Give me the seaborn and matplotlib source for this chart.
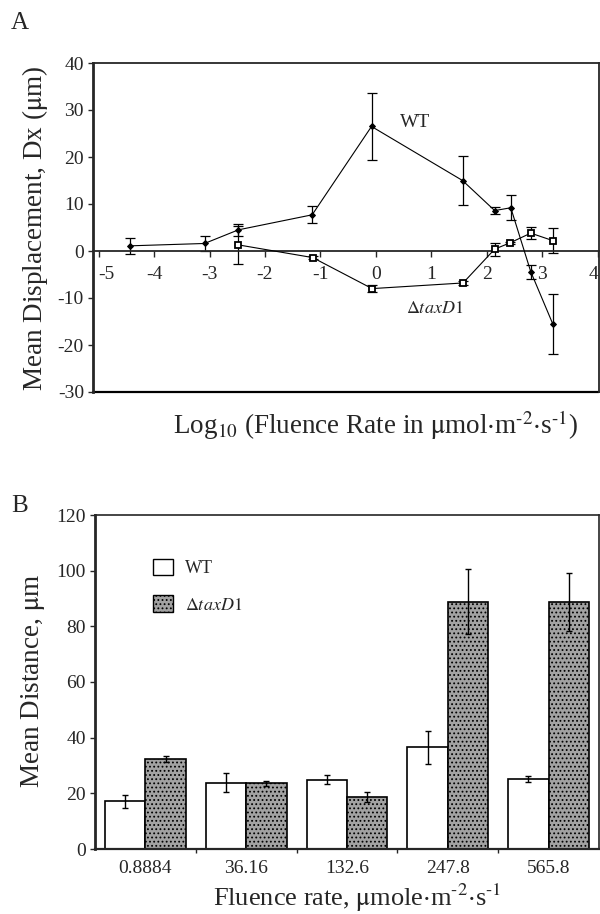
import matplotlib

matplotlib.use("Agg")
import matplotlib.pyplot as plt
import pandas as pd
import seaborn as sns
from matplotlib.patches import Patch

# Panel A: mean displacement vs log10 fluence rate
LOG_FLUENCE_WT = [-4.43, -3.09, -2.48, -1.15, -0.08, 1.56, 2.14, 2.43, 2.79, 3.19]
DX_WT = [1.1, 1.6, 4.5, 7.7, 26.5, 15.0, 8.6, 9.2, -4.4, -15.6]
DX_WT_ERR = [1.7, 1.5, 1.3, 1.8, 7.2, 5.2, 0.7, 2.7, 1.5, 6.4]

LOG_FLUENCE_TAXD1 = [-2.48, -1.14, -0.07, 1.57, 2.14, 2.41, 2.79, 3.19]
DX_TAXD1 = [1.3, -1.4, -8.0, -6.8, 0.4, 1.7, 3.8, 2.2]
DX_TAXD1_ERR = [4.0, 0.3, 0.8, 0.5, 1.4, 0.3, 1.3, 2.6]

X_TICKS_A = [-5, -4, -3, -2, -1, 0, 1, 2, 3, 4]
Y_TICKS_A = [-30, -20, -10, 0, 10, 20, 30, 40]

# Panel B: mean distance per fluence rate
FLUENCE_LABELS = ["0.8884", "36.16", "132.6", "247.8", "565.8"]
DIST_WT = [17.1, 23.8, 24.9, 36.5, 25.2]
DIST_WT_ERR = [2.4, 3.5, 1.6, 5.8, 1.0]
DIST_TAXD1 = [32.4, 23.6, 18.7, 88.9, 88.7]
DIST_TAXD1_ERR = [1.0, 0.8, 1.9, 11.6, 10.5]
Y_TICKS_B = [0, 20, 40, 60, 80, 100, 120]

STRAINS = ["WT", "taxD1"]
MUTANT_LABEL = r"$\Delta\mathit{taxD1}$"
GRAY = "#a2a2a2"
STIPPLE = "...."

sns.set_theme(style="ticks")
plt.rcParams["font.family"] = ["Liberation Serif", "DejaVu Serif"]
plt.rcParams["mathtext.fontset"] = "stix"
plt.rcParams["axes.unicode_minus"] = False
plt.rcParams["hatch.linewidth"] = 0.8

fig = plt.figure(figsize=(6, 9.14), dpi=100)
W, H = 600, 914


def px_axes(left, top, right, bottom):
    return fig.add_axes([left / W, 1 - bottom / H, (right - left) / W, (bottom - top) / H])


# ---------------- Panel A ----------------
ax = px_axes(93, 63, 599, 392)

wt = pd.DataFrame({"x": LOG_FLUENCE_WT, "y": DX_WT})
mut = pd.DataFrame({"x": LOG_FLUENCE_TAXD1, "y": DX_TAXD1})

ax.errorbar(LOG_FLUENCE_WT, DX_WT, yerr=DX_WT_ERR, fmt="none", ecolor="black",
            elinewidth=0.9, capsize=3.5, capthick=0.9, zorder=2)
ax.errorbar(LOG_FLUENCE_TAXD1, DX_TAXD1, yerr=DX_TAXD1_ERR, fmt="none", ecolor="black",
            elinewidth=0.9, capsize=3.5, capthick=0.9, zorder=2)
sns.lineplot(data=wt, x="x", y="y", sort=False, color="black", lw=0.8,
             marker="D", markersize=3, markeredgecolor="black", ax=ax, zorder=3)
sns.lineplot(data=mut, x="x", y="y", sort=False, color="black", lw=0.8,
             marker="s", markersize=4.5, markerfacecolor="white",
             markeredgecolor="black", markeredgewidth=1.3, ax=ax, zorder=3)

ax.set_xlim(-5.1, 4.02)
ax.set_ylim(-30, 40)
ax.set_xticks(X_TICKS_A)
ax.set_yticks(Y_TICKS_A)
ax.spines["bottom"].set_position(("data", 0))
for side in ["left", "bottom", "top", "right"]:
    ax.spines[side].set_linewidth(1.3)
ax.spines["left"].set_linewidth(2.0)
ax.axhline(-30, color="black", lw=1.6, clip_on=False)
ax.tick_params(axis="x", direction="out", length=4, width=1, pad=7, labelsize=14)
ax.tick_params(axis="y", direction="out", length=3.5, width=1, pad=3, labelsize=14)
xlabels = ax.get_xticklabels()
xlabels[0].set_horizontalalignment("left")
xlabels[-1].set_horizontalalignment("right")
ax.set_xlabel("")
ax.set_ylabel("")

ax.text(0.70, 27.3, "WT", fontsize=14, ha="center", va="center")
ax.text(1.06, -12.3, MUTANT_LABEL, fontsize=13, ha="center", va="center")

fig.text(376 / W, 1 - 425 / H,
         r"Log$_{10}$ (Fluence Rate in $\mathrm{\mu}$mol$\cdot$m$^{\text{-2}}$$\cdot$s$^{\text{-1}}$)",
         fontsize=19.5, ha="center", va="center")
fig.text(35 / W, 1 - 228 / H, r"Mean Displacement, Dx ($\mathrm{\mu}$m)",
         fontsize=19.5, rotation=90, ha="center", va="center")
fig.text(20 / W, 1 - 23 / H, "A", fontsize=18, ha="center", va="center")

# ---------------- Panel B ----------------
bx = px_axes(95, 515, 599, 849)

bars = pd.DataFrame({
    "fluence": FLUENCE_LABELS * 2,
    "strain": ["WT"] * len(FLUENCE_LABELS) + ["taxD1"] * len(FLUENCE_LABELS),
    "distance": DIST_WT + DIST_TAXD1,
})
sns.barplot(data=bars, x="fluence", y="distance", hue="strain", hue_order=STRAINS,
            order=FLUENCE_LABELS, palette={"WT": "white", "taxD1": GRAY},
            edgecolor="black", linewidth=1.2, width=0.8, errorbar=None,
            legend=False, ax=bx)
for patch in bx.containers[1].patches:
    patch.set_hatch(STIPPLE)

for container, errs, vals in zip(bx.containers, [DIST_WT_ERR, DIST_TAXD1_ERR],
                                 [DIST_WT, DIST_TAXD1]):
    centers = [p.get_x() + p.get_width() / 2 for p in container.patches]
    bx.errorbar(centers, vals, yerr=errs, fmt="none", ecolor="black",
                elinewidth=1.0, capsize=2.5, capthick=1.0, zorder=4)

bx.set_xlim(-0.5, 4.5)
bx.set_ylim(0, 120)
bx.set_yticks(Y_TICKS_B)
bx.set_xticks(range(len(FLUENCE_LABELS)))
bx.set_xticklabels(FLUENCE_LABELS)
bx.set_xticks([i + 0.5 for i in range(len(FLUENCE_LABELS) - 1)], minor=True)
bx.tick_params(axis="x", which="major", length=0, pad=8, labelsize=14)
bx.tick_params(axis="x", which="minor", direction="out", length=3, width=1)
bx.tick_params(axis="y", direction="out", length=3.5, width=1, pad=3, labelsize=14)
for side in ["left", "bottom", "top", "right"]:
    bx.spines[side].set_linewidth(1.2)
bx.spines["left"].set_linewidth(2.0)
bx.spines["bottom"].set_linewidth(1.6)
bx.set_xlabel("")
bx.set_ylabel("")

handles = [Patch(facecolor="white", edgecolor="black", lw=1.0, label="WT"),
           Patch(facecolor=GRAY, edgecolor="black", lw=1.0, hatch=STIPPLE,
                 label=MUTANT_LABEL)]
bx.legend(handles=handles, loc="upper left", bbox_to_anchor=(0.115, 0.868),
          frameon=False, fontsize=13, borderpad=0, borderaxespad=0,
          handlelength=1.1, handleheight=1.0, handletextpad=0.65, labelspacing=1.0)

fig.text(357 / W, 1 - 898 / H,
         r"Fluence rate, $\mathrm{\mu}$mole$\cdot$m$^{\text{-2}}$$\cdot$s$^{\text{-1}}$",
         fontsize=19, ha="center", va="center")
fig.text(33 / W, 1 - 681 / H, r"Mean Distance, $\mathrm{\mu}$m",
         fontsize=19.5, rotation=90, ha="center", va="center")
fig.text(20 / W, 1 - 506 / H, "B", fontsize=18, ha="center", va="center")

fig.savefig("out.png", dpi=100, facecolor="white")
